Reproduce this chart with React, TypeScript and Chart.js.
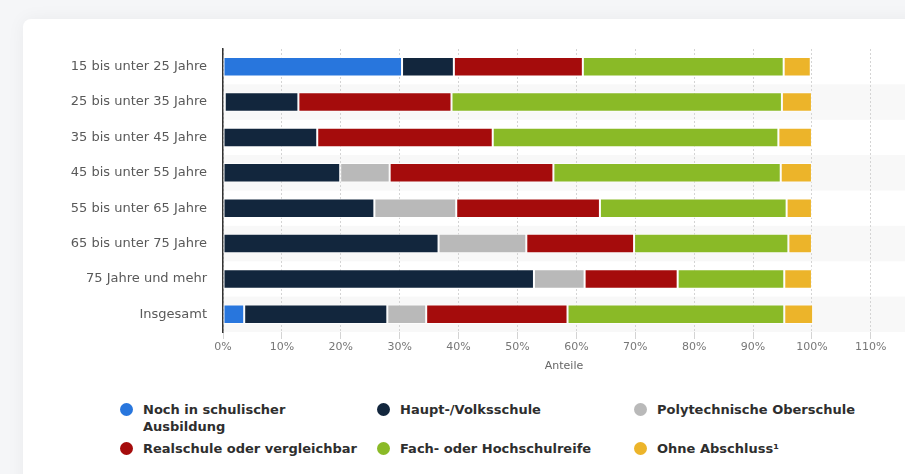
import React, { useEffect, useRef } from "react";
import { Chart, registerables } from "chart.js";
Chart.register(...registerables);

const categories = [
  "15 bis unter 25 Jahre",
  "25 bis unter 35 Jahre",
  "35 bis unter 45 Jahre",
  "45 bis unter 55 Jahre",
  "55 bis unter 65 Jahre",
  "65 bis unter 75 Jahre",
  "75 Jahre und mehr",
  "Insgesamt",
];
const seriesNames = [
  "Noch in schulischer Ausbildung",
  "Haupt-/Volksschule",
  "Polytechnische Oberschule",
  "Realschule oder vergleichbar",
  "Fach- oder Hochschulreife",
  "Ohne Abschluss¹",
];
const noch = [30.4, 0.3, 0, 0, 0, 0, 0, 3.6];
const haupt = [8.8, 12.5, 16.0, 19.9, 25.7, 36.6, 52.8, 24.3];
const poly = [0, 0, 0, 8.4, 13.9, 14.9, 8.6, 6.6];
const real = [21.9, 26.0, 29.8, 27.8, 24.4, 18.3, 15.8, 24.0];
const fach = [34.1, 56.1, 48.5, 38.6, 31.7, 26.2, 18.1, 36.8];
const ohne = [4.6, 5.1, 5.7, 5.3, 4.3, 4.0, 4.7, 4.9];
const colors = ["#2876dd", "#12263d", "#b9b9b9", "#a50c0c", "#8aba27", "#ecb42a"];
const xAxisTitle = "Anteile";

const FONT = "'DejaVu Sans', sans-serif";

const bandPlugin = {
  id: "bands",
  beforeDraw(chart: any) {
    const { ctx, chartArea, scales } = chart;
    const y = scales.y;
    ctx.save();
    ctx.fillStyle = "#f8f8f8";
    const h = (chartArea.bottom - chartArea.top) / categories.length;
    for (let i = 0; i < categories.length; i++) {
      if (i % 2 === 1) {
        const c = y.getPixelForValue(i);
        ctx.fillRect(chartArea.left, c - h / 2, chartArea.right - chartArea.left, h);
      }
    }
    ctx.restore();
  },
};

export default function App() {
  const ref = useRef<HTMLCanvasElement>(null);
  useEffect(() => {
    const all = [noch, haupt, poly, real, fach, ohne];
    const chart = new Chart(ref.current!, {
      type: "bar",
      data: {
        labels: categories,
        datasets: all.map((d, i) => ({
          label: seriesNames[i],
          data: d,
          backgroundColor: colors[i],
          borderColor: "rgba(255,255,255,0.75)",
          borderWidth: 1,
          borderSkipped: false,
          barPercentage: 0.55,
          categoryPercentage: 1,
        })),
      },
      options: {
        indexAxis: "y",
        responsive: false,
        animation: false,
        layout: { padding: { left: 0, right: 0, top: 49, bottom: 0 } },
        plugins: { legend: { display: false }, tooltip: { enabled: false } },
        scales: {
          x: {
            stacked: true,
            min: 0,
            max: 115.8,
            afterBuildTicks: (axis: any) => {
              axis.ticks = axis.ticks.filter(
                (t: any) => Math.abs(t.value / 10 - Math.round(t.value / 10)) < 1e-6
              );
            },
            afterFit: (s: any) => {
              s.height = 48;
            },
            ticks: {
              stepSize: 10,
              includeBounds: false,
              padding: 2,
              color: "#777",
              font: { family: FONT, size: 11 },
              callback: (v: any) => v + "%",
              maxRotation: 0,
              autoSkip: false,
            },
            grid: {
              color: "#d4d4d4",
              lineWidth: 1,
              tickLength: 7,
              drawTicks: true,
            },
            border: { display: false, dash: [2, 2] },
            title: {
              display: true,
              text: xAxisTitle,
              color: "#666",
              font: { family: FONT, size: 11 },
              padding: { top: 2, bottom: 7 },
            },
          },
          y: {
            stacked: true,
            afterFit: (s: any) => {
              s.width = 223;
            },
            ticks: {
              color: "#595959",
              padding: 16,
              font: { family: FONT, size: 13 },
            },
            grid: { display: false, drawTicks: false },
            border: { display: true, color: "#333", width: 1.5 },
          },
        },
      },
      plugins: [bandPlugin],
    });
    return () => chart.destroy();
  }, []);

  const legendPos = [
    { x: 127, y: 410 },
    { x: 384, y: 410 },
    { x: 641, y: 410 },
    { x: 127, y: 449 },
    { x: 384, y: 449 },
    { x: 641, y: 449 },
  ];

  return (
    <div
      style={{
        position: "fixed",
        left: 0,
        top: 0,
        width: 905,
        height: 474,
        overflow: "hidden",
        background: "#f5f6f8",
        fontFamily: FONT,
      }}
    >
      <div
        style={{
          position: "absolute",
          left: 23,
          top: 19,
          width: 960,
          height: 520,
          background: "#fff",
          borderRadius: 8,
          boxShadow: "0 0 18px rgba(0,0,0,0.05)",
        }}
      />
      <canvas
        ref={ref}
        width={905}
        height={380}
        style={{ position: "absolute", left: 0, top: 0, display: "block" }}
      />
      {seriesNames.map((n, i) => (
        <div
          key={n}
          style={{
            position: "absolute",
            left: legendPos[i].x - 7,
            top: legendPos[i].y - 9,
            display: "flex",
            alignItems: "flex-start",
            width: 260,
          }}
        >
          <span
            style={{
              display: "inline-block",
              width: 13,
              height: 13,
              borderRadius: "50%",
              background: colors[i],
              marginTop: 2,
              flex: "0 0 auto",
            }}
          />
          <span
            style={{
              marginLeft: 10,
              fontSize: 13,
              fontWeight: 700,
              color: "#2e2e2e",
              lineHeight: "17px",
              width: i === 0 ? 170 : 240,
            }}
          >
            {n}
          </span>
        </div>
      ))}
    </div>
  );
}
